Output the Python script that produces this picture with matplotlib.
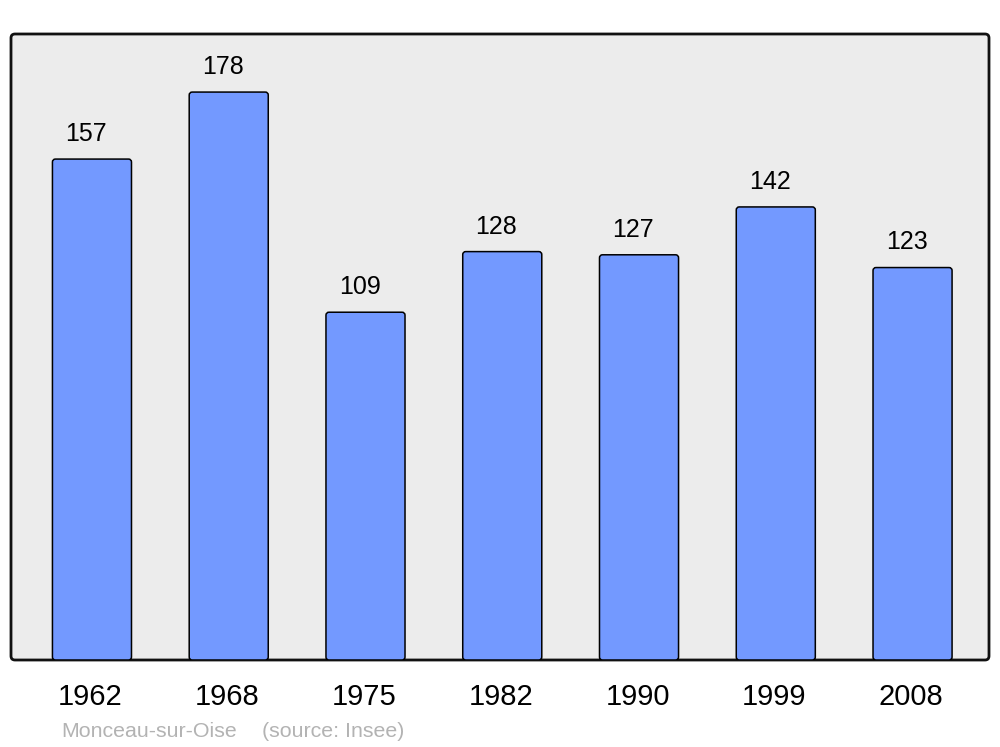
import matplotlib
matplotlib.use("Agg")
import matplotlib.pyplot as plt
import matplotlib.transforms as mtransforms
from matplotlib.patches import FancyBboxPatch

years = ["1962", "1968", "1975", "1982", "1990", "1999", "2008"]
population = [157, 178, 109, 128, 127, 142, 123]
commune = "Monceau-sur-Oise"
source = "(source: Insee)"

plt.rcParams['font.family'] = ['Liberation Sans', 'DejaVu Sans']

W, H = 1000, 747
fig = plt.figure(figsize=(W / 100, H / 100), dpi=100)
ax_l, ax_r, ax_t, ax_b = 11, 989, 34, 660
ax = fig.add_axes([ax_l / W, 1 - ax_b / H, (ax_r - ax_l) / W, (ax_b - ax_t) / H])
ax.patch.set_visible(False)
for s in ax.spines.values():
    s.set_visible(False)

ax_w_px = ax_r - ax_l
ax_h_px = ax_b - ax_t
frame = FancyBboxPatch((0, 0), 1, 1, boxstyle="round,pad=0,rounding_size=%f" % (4 / ax_w_px),
                       mutation_aspect=ax_w_px / ax_h_px, transform=ax.transAxes,
                       facecolor="#ececec", edgecolor="#111111", linewidth=2.0,
                       zorder=0, clip_on=False)
ax.add_patch(frame)

x = list(range(len(years)))
ax.set_xlim(-0.592, 6.559)
ax.set_ylim(0, 196.2)

bars = ax.bar(x, population, width=0.578)
xunit_px = ax_w_px / (6.559 + 0.592)
yunit_px = ax_h_px / 196.2
for b in bars:
    bx, by, bw, bh = b.get_x(), b.get_y(), b.get_width(), b.get_height()
    b.set_visible(False)
    p = FancyBboxPatch((bx, by), bw, bh,
                       boxstyle="round,pad=0,rounding_size=%f" % (3 / xunit_px),
                       mutation_aspect=xunit_px / yunit_px,
                       facecolor="#7399ff", edgecolor="#000000", linewidth=1.1, zorder=2)
    ax.add_patch(p)

for xi, v in zip(x, population):
    ax.annotate(str(v), (xi, v), xytext=(-4.3, 13), textcoords="offset points",
                ha="center", va="baseline", fontsize=18, color="#000000")

ax.set_xticks(x)
ax.set_xticklabels(years, fontsize=21)
ax.tick_params(axis="x", length=0, pad=16.5)
ax.set_yticks([])
shift = mtransforms.ScaledTranslation(-1.5 / 100, 0, fig.dpi_scale_trans)
for lbl in ax.get_xticklabels():
    lbl.set_transform(lbl.get_transform() + shift)

fig.text(61 / W, 1 - 737 / H, commune, fontsize=15.4, color="#b3b3b3", va="baseline", ha="left")
fig.text(262 / W, 1 - 737 / H, source, fontsize=15.4, color="#b3b3b3", va="baseline", ha="left")

fig.savefig("out.png", dpi=100)
